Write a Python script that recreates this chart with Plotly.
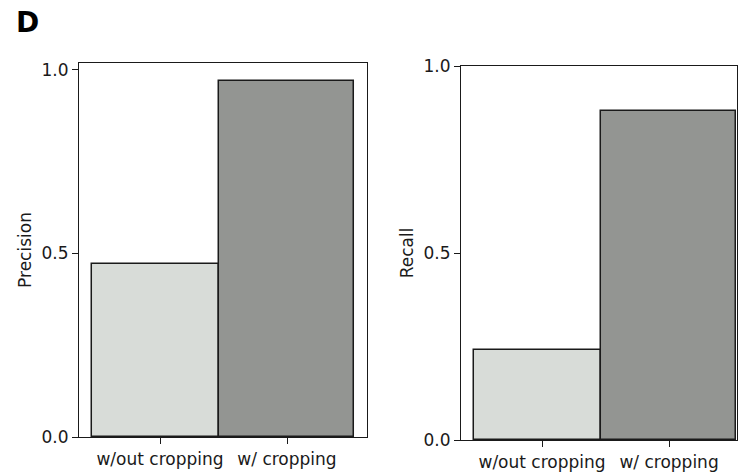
import plotly.graph_objects as go

categories = ["w/out cropping", "w/ cropping"]
precision = [0.47, 0.97]
recall = [0.24, 0.88]
bar_colors = ["#d8dcd8", "#939592"]
ytick_vals = [0.0, 0.5, 1.0]
ytick_text = ["0.0", "0.5", "1.0"]

# bar geometry in category units
centers = [-0.035, 0.997]
widths = [1.0, 1.063]

fig = go.Figure()
fig.add_trace(go.Bar(x=centers, y=precision, width=widths, marker=dict(color=bar_colors, line=dict(color="#1a1a1a", width=1.5)),
                     xaxis="x", yaxis="y", showlegend=False))
fig.add_trace(go.Bar(x=centers, y=recall, width=widths, marker=dict(color=bar_colors, line=dict(color="#1a1a1a", width=1.5)),
                     xaxis="x2", yaxis="y2", showlegend=False))

font = dict(family="DejaVu Sans", size=17, color="#1a1a1a")
axcommon = dict(showline=True, mirror=True, linecolor="#1a1a1a", linewidth=1.3, ticks="outside", ticklen=6,
                tickwidth=1.3, tickcolor="#1a1a1a", showgrid=False, zeroline=False, tickfont=font, automargin=False)

fig.update_layout(
    width=749, height=472, margin=dict(l=0, r=0, t=0, b=0),
    plot_bgcolor="white", paper_bgcolor="white", bargap=0,
    xaxis=dict(domain=[0.1055, 0.49], range=[-0.638, 1.63], tickvals=[0, 1], ticktext=categories, anchor="y", **axcommon),
    yaxis=dict(domain=[1 - 437 / 472, 1 - 63 / 472], range=[0, 1.0185], tickvals=ytick_vals, ticktext=ytick_text,
               title=dict(text="Precision", font=font, standoff=5), anchor="x", **axcommon),
    xaxis2=dict(domain=[0.6155, 0.984], range=[-0.638, 1.535], tickvals=[0, 1], ticktext=categories, anchor="y2", **axcommon),
    yaxis2=dict(domain=[1 - 440 / 472, 1 - 66 / 472], range=[0, 1.0], tickvals=ytick_vals, ticktext=ytick_text,
                title=dict(text="Recall", font=font, standoff=5), anchor="x2", **axcommon),
    annotations=[dict(text="<b>D</b>", x=14 / 749, y=1 - 23 / 472, xref="paper", yref="paper", xanchor="left",
                      yanchor="middle", showarrow=False, font=dict(family="DejaVu Sans", size=28, color="black"))],
)

fig.write_html("out.html")
